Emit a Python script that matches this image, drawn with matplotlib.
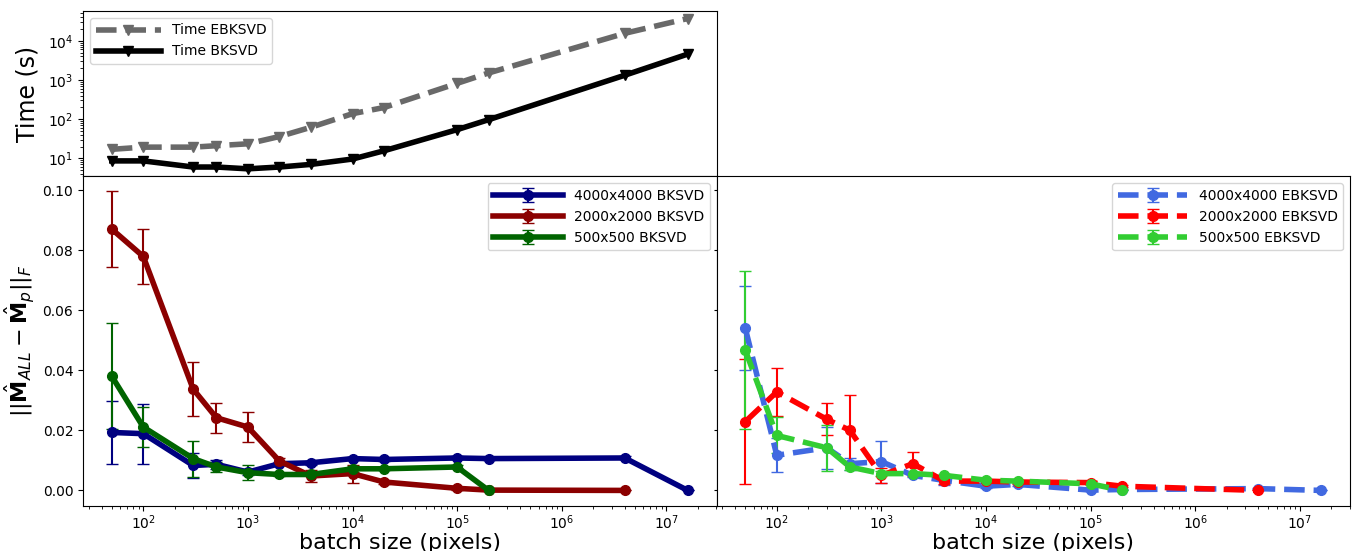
import matplotlib
matplotlib.use("Agg")
import matplotlib.pyplot as plt
import numpy as np

# batch sizes (pixels)
batch = [50, 100, 300, 500, 1000, 2000, 4000, 1e4, 2e4, 1e5, 2e5, 4e6, 1.6e7]

# timing (s)
time_ebksvd = [17, 19.3, 19.3, 21, 23.5, 36, 62, 138, 198, 820, 1510, 15500, 37000]
time_bksvd = [8.6, 8.6, 6.0, 6.0, 5.4, 6.0, 7.0, 9.6, 15.6, 54, 97, 1320, 4570]

# BKSVD errors
b4000 = [0.0193, 0.0189, 0.0083, 0.0087, 0.0061, 0.0089, 0.0092, 0.0106, 0.0103, 0.0108, 0.0106, 0.0108, 0.0]
b4000_err = [0.0105, 0.0100, 0.0043, 0.0015, 0.0010, 0.0006, 0.0006, 0.0005, 0.0005, 0.0005, 0.0005, 0.0005, 0.0]
b2000 = [0.0870, 0.0779, 0.0337, 0.0242, 0.0211, 0.0098, 0.0048, 0.0056, 0.0028, 0.0007, 0.0001, 0.0]
b2000_err = [0.0126, 0.0090, 0.0089, 0.0050, 0.0051, 0.0010, 0.0020, 0.0030, 0.0005, 0.0004, 0.0002, 0.0]
b500 = [0.0380, 0.0211, 0.0106, 0.0078, 0.0059, 0.0053, 0.0053, 0.0072, 0.0072, 0.0078, 0.0]
b500_err = [0.0176, 0.0068, 0.0060, 0.0018, 0.0025, 0.0006, 0.0006, 0.0010, 0.0005, 0.0005, 0.0]

# EBKSVD errors
e4000 = [0.0540, 0.0117, 0.0142, 0.0089, 0.0096, 0.0050, 0.0033, 0.0014, 0.0020, 0.0001, 0.0003, 0.0006, 0.0]
e4000_err = [0.0140, 0.0056, 0.0070, 0.0020, 0.0070, 0.0005, 0.0015, 0.0005, 0.0005, 0.0003, 0.0003, 0.0002, 0.0]
e2000 = [0.0229, 0.0328, 0.0237, 0.0200, 0.0050, 0.0089, 0.0031, 0.0031, 0.0028, 0.0026, 0.0014, 0.0]
e2000_err = [0.0207, 0.0080, 0.0053, 0.0117, 0.0025, 0.0040, 0.0008, 0.0005, 0.0005, 0.0005, 0.0003, 0.0]
e500 = [0.0467, 0.0183, 0.0142, 0.0078, 0.0056, 0.0056, 0.0050, 0.0034, 0.0031, 0.0022, 0.0]
e500_err = [0.0264, 0.0060, 0.0077, 0.0010, 0.0008, 0.0006, 0.0006, 0.0005, 0.0005, 0.0005, 0.0]

labels_b = ["4000x4000 BKSVD", "2000x2000 BKSVD", "500x500 BKSVD"]
labels_e = ["4000x4000 EBKSVD", "2000x2000 EBKSVD", "500x500 EBKSVD"]

W, H = 1352, 551
fig = plt.figure(figsize=(W / 100, H / 100), dpi=100)
gs = fig.add_gridspec(2, 2, height_ratios=[165, 329], hspace=0, wspace=0,
                      left=83 / W, right=1350 / W, top=1 - 11 / H, bottom=1 - 506 / H)
ax_t = fig.add_subplot(gs[0, 0])
ax_e = fig.add_subplot(gs[0, 1])
ax_l = fig.add_subplot(gs[1, 0])
ax_r = fig.add_subplot(gs[1, 1], sharey=ax_l)
ax_e.axis("off")

# top timing plot
ax_t.plot(batch, time_ebksvd, color="dimgray", ls="--", lw=4, marker="v", ms=7, label="Time EBKSVD")
ax_t.plot(batch, time_bksvd, color="black", ls="-", lw=4, marker="v", ms=7, label="Time BKSVD")
ax_t.set_xscale("log")
ax_t.set_yscale("log")
ax_t.set_ylabel("Time (s)", fontsize=17, labelpad=6)
ax_t.tick_params(axis="x", which="both", bottom=False, labelbottom=False)
ax_t.legend(loc="upper left", handlelength=4.7)

kw = dict(lw=4, marker="o", ms=7, capsize=4, elinewidth=1.5)
for y, e, c, lab in zip([b4000, b2000, b500], [b4000_err, b2000_err, b500_err],
                        ["navy", "darkred", "darkgreen"], labels_b):
    ax_l.errorbar(batch[:len(y)], y, yerr=e, color=c, label=lab, **kw)
for y, e, c, lab in zip([e4000, e2000, e500], [e4000_err, e2000_err, e500_err],
                        ["royalblue", "red", "limegreen"], labels_e):
    ax_r.errorbar(batch[:len(y)], y, yerr=e, color=c, ls="--", label=lab, **kw)

for ax in (ax_l, ax_r):
    ax.set_xscale("log")
    ax.tick_params(axis="x", which="major", pad=1.5)
    ax.set_xlabel("batch size (pixels)", fontsize=16, labelpad=1)
    ax.legend(loc="upper right", handlelength=5)
ax_t.set_xlim(ax_l.get_xlim())
ax_r.tick_params(axis="y", labelleft=False, length=2)
ax_l.set_ylabel(r"$||\hat{\mathbf{M}}_{ALL} - \hat{\mathbf{M}}_p||_F$", fontsize=16)
ax_l.set_yticks([0.0, 0.02, 0.04, 0.06, 0.08, 0.10])

fig.savefig("out.png", dpi=100)
